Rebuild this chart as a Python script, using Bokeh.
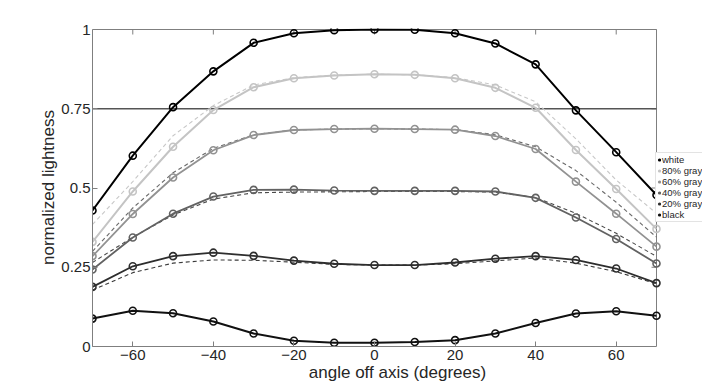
import math
from bokeh.plotting import figure
from bokeh.models import Legend, LegendItem, FixedTicker, Range1d
from bokeh.embed import file_html
from bokeh.resources import INLINE

# ---- data -------------------------------------------------------------
angles = [-70, -60, -50, -40, -30, -20, -10, 0, 10, 20, 30, 40, 50, 60, 70]

white = [0.429, 0.602, 0.755, 0.868, 0.958, 0.988, 0.998, 1.000, 0.999, 0.988, 0.956, 0.890, 0.745, 0.613, 0.478]
gray80 = [0.330, 0.489, 0.630, 0.746, 0.818, 0.846, 0.855, 0.859, 0.857, 0.846, 0.816, 0.753, 0.620, 0.497, 0.371]
gray60 = [0.285, 0.418, 0.533, 0.619, 0.667, 0.683, 0.686, 0.687, 0.686, 0.684, 0.664, 0.623, 0.520, 0.419, 0.315]
gray40 = [0.243, 0.344, 0.419, 0.473, 0.494, 0.495, 0.492, 0.491, 0.491, 0.491, 0.489, 0.469, 0.407, 0.339, 0.262]
gray20 = [0.188, 0.253, 0.285, 0.296, 0.286, 0.271, 0.261, 0.257, 0.257, 0.265, 0.277, 0.285, 0.273, 0.246, 0.200]
black = [0.088, 0.113, 0.105, 0.079, 0.041, 0.018, 0.012, 0.012, 0.014, 0.020, 0.041, 0.074, 0.104, 0.111, 0.097]

ref80 = [0.385, 0.520, 0.665, 0.760, 0.825, 0.848, 0.856, 0.859, 0.857, 0.848, 0.825, 0.772, 0.655, 0.525, 0.420]
ref60 = [0.300, 0.437, 0.548, 0.625, 0.668, 0.683, 0.686, 0.687, 0.686, 0.684, 0.668, 0.630, 0.555, 0.455, 0.345]
ref40 = [0.265, 0.345, 0.415, 0.465, 0.485, 0.487, 0.488, 0.489, 0.489, 0.489, 0.487, 0.470, 0.420, 0.357, 0.284]
ref20 = [0.178, 0.233, 0.263, 0.273, 0.272, 0.266, 0.259, 0.257, 0.257, 0.261, 0.270, 0.279, 0.263, 0.236, 0.198]

threshold = 0.75
series_names = ["white", "80% gray", "60% gray", "40% gray", "20% gray", "black"]
x_ticks = [-60, -40, -20, 0, 20, 40, 60]
y_ticks = [0, 0.25, 0.5, 0.75, 1]
y_tick_labels = ["0", "0.25", "0.5", "0.75", "1"]

# ---- layout ------------------------------------------------------------
FONT = "Liberation Sans"
AXC = "#7f7f7f"
X0, X1 = angles[0], angles[-1]
Y0, Y1 = y_ticks[0], y_ticks[-1]
AX_PX = 564            # pixels spanning the axes box (-70..70)
FRAME_W = 610          # frame continues to the right so the legend can sit there
AX_PY = 317
FRAME_H = 318
x_end = X1 + (X1 - X0) * (FRAME_W - AX_PX) / AX_PX
y_end = Y1 + (Y1 - Y0) * (FRAME_H - AX_PY) / AX_PY

series = [white, gray80, gray60, gray40, gray20, black]
line_colors = ["#000000", "#c4c4c4", "#929292", "#626262", "#2e2e2e", "#111111"]
line_widths = [2.0, 2.0, 1.8, 1.8, 1.8, 2.0]
refs = [ref80, ref60, ref40, ref20]
ref_colors = ["#c8c8c8", "#6a6a6a", "#4a4a4a", "#3a3a3a"]

p = figure(frame_width=FRAME_W, frame_height=FRAME_H, output_backend="svg", toolbar_location=None,
           x_range=Range1d(X0, x_end), y_range=Range1d(Y0, y_end),
           min_border_left=92, min_border_right=0, min_border_top=28, min_border_bottom=40)
p.background_fill_color = "white"
p.border_fill_color = "white"
p.outline_line_color = None
p.grid.visible = False

# box: top and right border, inward ticks
p.segment(x0=[X0], x1=[X1], y0=[Y1], y1=[Y1], line_color=AXC, line_width=1)
p.segment(x0=[X1], x1=[X1], y0=[Y0], y1=[Y1], line_color=AXC, line_width=1)
p.ray(x=x_ticks, y=[Y1] * len(x_ticks), length=5, length_units="screen",
      angle=-math.pi / 2, line_color=AXC, line_width=1)
p.ray(x=[X1] * len(y_ticks), y=y_ticks, length=5, length_units="screen",
      angle=math.pi, line_color=AXC, line_width=1)

# horizontal reference at 0.75
p.segment(x0=[X0], x1=[X1], y0=[threshold], y1=[threshold], line_color="#555555", line_width=1.5)

# dashed reference curves
for r, c in zip(refs, ref_colors):
    p.line(angles, r, line_color=c, line_width=1.1, line_dash="4 3")

# solid series with open circle markers
marker_renderers = []
for s, c, w in zip(series, line_colors, line_widths):
    p.line(angles, s, line_color=c, line_width=w)
    mr = p.scatter(angles, s, marker="circle", size=7, fill_color=None, line_color=c, line_width=1.6)
    marker_renderers.append(mr)

# axes
xa = p.xaxis[0]
xa.ticker = FixedTicker(ticks=x_ticks)
xa.bounds = (X0, X1)
ya = p.yaxis[0]
ya.ticker = FixedTicker(ticks=y_ticks)
ya.bounds = (Y0, Y1)
ya.major_label_overrides = {t: l for t, l in zip(y_ticks, y_tick_labels)}
for ax in (xa, ya):
    ax.axis_line_color = AXC
    ax.major_tick_line_color = AXC
    ax.major_tick_in = 5
    ax.major_tick_out = 0
    ax.minor_tick_line_color = None
    ax.major_label_text_font = FONT
    ax.major_label_text_font_size = "15px"
    ax.major_label_text_color = "#262626"
    ax.axis_label_text_font = FONT
    ax.axis_label_text_font_size = "17px"
    ax.axis_label_text_font_style = "normal"
    ax.axis_label_text_color = "#262626"
xa.axis_label = "angle off axis (degrees)"
ya.axis_label = "normalized lightness"
xa.major_label_standoff = 3
xa.axis_label_standoff = 0
ya.major_label_standoff = 2
ya.axis_label_standoff = 0

# legend: small dots
items = [LegendItem(label=name, renderers=[mr]) for name, mr in zip(series_names, marker_renderers)]
legend = Legend(items=items, location=(AX_PX - 1, 124), orientation="vertical",
                label_text_font=FONT, label_text_font_size="9.5px", label_text_color="#262626",
                label_height=11, glyph_height=11, glyph_width=4, label_standoff=1,
                spacing=0, padding=1, margin=0,
                border_line_color="#c8c8c8", border_line_width=1,
                background_fill_color="white", background_fill_alpha=1.0)
p.add_layout(legend, "center")

open("out.html", "w").write(file_html(p, INLINE))
